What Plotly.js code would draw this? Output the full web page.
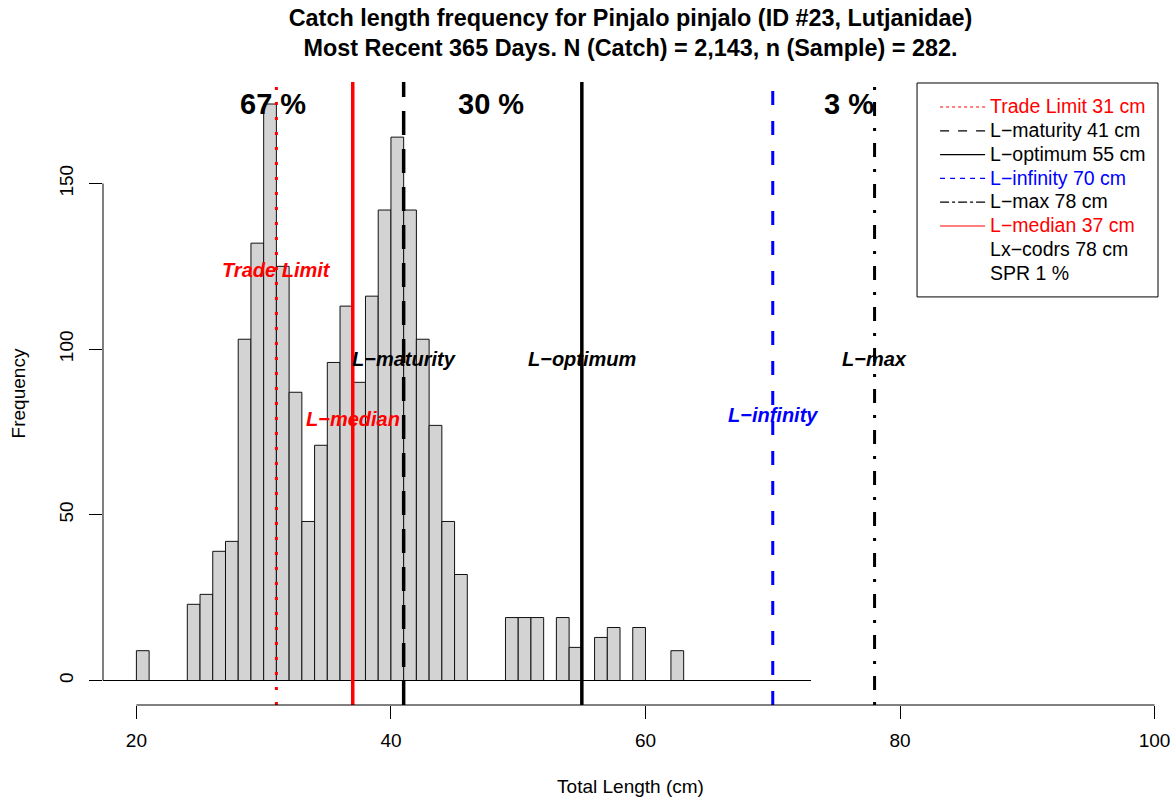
<!DOCTYPE html>
<html>
<head>
<meta charset="utf-8">
<script src="https://cdn.plot.ly/plotly-3.0.1.min.js"></script>
<style>
  html, body { margin: 0; padding: 0; background: #fff; }
  #chart { width: 1176px; height: 803px; }
</style>
</head>
<body>
<div id="chart"></div>
<script>
// ---------------- DATA ----------------
// Histogram bins (lower edge, cm) and catch frequencies
const lengthBins = [17, 18, 19, 20, 21, 22, 23, 24, 25, 26, 27, 28, 29, 30, 31, 32, 33, 34, 35, 36, 37, 38, 39, 40,
                    41, 42, 43, 44, 45, 46, 47, 48, 49, 50, 51, 52, 53, 54, 55, 56, 57, 58, 59, 60, 61, 62,
                    63, 64, 65, 66, 67, 68, 69, 70, 71, 72];
const counts =     [0, 0, 0, 9, 0, 0, 0, 23, 26, 39, 42, 103, 132, 174, 125, 87, 48, 71, 96, 113, 90, 116, 142, 164,
                    142, 103, 77, 48, 32, 0, 0, 0, 19, 19, 19, 0, 19, 10, 0, 13, 16, 0, 16, 0, 0, 9,
                    0, 0, 0, 0, 0, 0, 0, 0, 0, 0];

// Reference lengths (cm)
const refNames  = ['Trade Limit', 'L\u2212maturity', 'L\u2212optimum', 'L\u2212infinity', 'L\u2212max', 'L\u2212median'];
const refValues = [31, 41, 55, 70, 78, 37];
const refLabelY = [124, 97, 97, 80, 97, 79];   // height (frequency units) of in-plot labels

// Extra legend-only entries
const extraNames  = ['Lx\u2212codrs', 'SPR'];
const extraValues = [78, 1];
const extraUnits  = ['cm', '%'];

// Share of catch per size zone
const zoneLabels = ['67 %', '30 %', '3 %'];
const zoneCenters = [30.7, 47.9, 76.0];
const zoneLabelY = 174;

// Axes ticks
const xTicks = [20, 40, 60, 80, 100];
const yTicks = [0, 50, 100, 150];

// ---------------- STYLES ----------------
const refColors = ['#ff0000', '#000000', '#000000', '#0000ff', '#000000', '#ff0000'];
const refPlotDash = ['3px,12px', '24px,14px', 'solid', '14px,16px', '3px,12px,14px,12px', 'solid'];
const refPlotWidth = [3, 3.5, 3.5, 3, 3, 3.5];
const refLegendDash = ['dot', 'dash', 'solid', '5px,5px', 'dashdot', 'solid'];
const FONT = 'Liberation Sans, Arial, Helvetica, sans-serif';

// ---------------- TRACES ----------------
const traces = [];
traces.push({
  type: 'bar',
  x: lengthBins,
  y: counts,
  width: 1,
  offset: 0,
  marker: { color: '#d3d3d3', line: { color: '#111', width: 1 } },
  showlegend: false,
  hoverinfo: 'skip'
});

function legendName(txt, color) {
  return '<span style="font-size:19.5px;fill:' + color + '">' + txt + '</span>';
}

refNames.forEach((n, i) => {
  traces.push({
    type: 'scatter', mode: 'lines',
    x: [null], y: [null],
    name: legendName(n + ' ' + refValues[i] + ' cm', refColors[i]),
    line: { color: refColors[i], width: 1.2, dash: refLegendDash[i] },
    showlegend: true, hoverinfo: 'skip'
  });
});
extraNames.forEach((n, i) => {
  traces.push({
    type: 'scatter', mode: 'lines',
    x: [null], y: [null],
    name: legendName(n + ' ' + extraValues[i] + ' ' + extraUnits[i], '#000'),
    line: { color: 'rgba(0,0,0,0)', width: 0 },
    showlegend: true, hoverinfo: 'skip'
  });
});

// ---------------- SHAPES ----------------
const shapes = [];
// baseline of histogram
shapes.push({ type: 'line', xref: 'x', yref: 'y', x0: lengthBins[0], x1: lengthBins[lengthBins.length - 1] + 1,
              y0: 0, y1: 0, line: { color: '#000', width: 1 }, layer: 'above' });
// reference vertical lines
refValues.forEach((v, i) => {
  shapes.push({ type: 'line', xref: 'x', yref: 'paper', x0: v, x1: v, y0: 0, y1: 1,
                line: { color: refColors[i], width: refPlotWidth[i], dash: refPlotDash[i] }, layer: 'above' });
});
// R-style axis lines (span only tick range)
shapes.push({ type: 'line', xref: 'x', yref: 'paper', x0: xTicks[0], x1: xTicks[xTicks.length - 1], y0: 0, y1: 0,
              line: { color: '#000', width: 1 } });
shapes.push({ type: 'line', xref: 'paper', yref: 'y', x0: 0, x1: 0, y0: yTicks[0], y1: yTicks[yTicks.length - 1],
              line: { color: '#000', width: 1 } });
// legend box
shapes.push({ type: 'rect', xref: 'paper', yref: 'paper', x0: 0.7716, x1: 1, y0: 0.655, y1: 0.9984,
              line: { color: '#000', width: 1 }, fillcolor: 'rgba(0,0,0,0)' });

// ---------------- ANNOTATIONS ----------------
const annotations = [];
zoneLabels.forEach((t, i) => {
  annotations.push({ x: zoneCenters[i], y: zoneLabelY, xref: 'x', yref: 'y', text: t, showarrow: false,
                     xanchor: 'center', yanchor: 'middle',
                     font: { family: FONT, size: 29, color: '#000', weight: 'bold' } });
});
refNames.forEach((n, i) => {
  annotations.push({ x: refValues[i], y: refLabelY[i], xref: 'x', yref: 'y', text: n, showarrow: false,
                     xanchor: 'center', yanchor: 'middle',
                     font: { family: FONT, size: 20, color: refColors[i], weight: 'bold', style: 'italic' } });
});

// ---------------- LAYOUT ----------------
const layout = {
  width: 1176, height: 803,
  margin: { l: 103, r: 18, t: 82, b: 98 },
  paper_bgcolor: '#fff', plot_bgcolor: '#fff',
  font: { family: FONT, color: '#000' },
  title: {
    text: 'Catch length frequency for Pinjalo pinjalo (ID #23, Lutjanidae)<br>Most Recent 365 Days. N (Catch) = 2,143, n (Sample) = 282.',
    font: { family: FONT, size: 23.4, color: '#000', weight: 'bold' },
    x: 0.5, xref: 'paper', xanchor: 'center',
    y: 0.9676, yref: 'container', yanchor: 'middle'
  },
  xaxis: {
    range: [17.376, 100.27],
    tickmode: 'array', tickvals: xTicks, ticktext: xTicks.map(String),
    ticks: 'outside', ticklen: 13, tickwidth: 1, tickcolor: '#000',
    showline: false, showgrid: false, zeroline: false,
    tickfont: { family: FONT, size: 19, color: '#000' },
    ticklabelstandoff: 5,
    title: { text: 'Total Length (cm)', font: { family: FONT, size: 19, color: '#000' }, standoff: 29 }
  },
  yaxis: {
    range: [-7.39, 180.64],
    tickmode: 'array', tickvals: yTicks, ticktext: yTicks.map(String),
    ticks: 'outside', ticklen: 13, tickwidth: 1, tickcolor: '#000',
    tickangle: -90,
    showline: false, showgrid: false, zeroline: false,
    tickfont: { family: FONT, size: 19, color: '#000' },
    ticklabelstandoff: 8,
    title: { text: 'Frequency', font: { family: FONT, size: 19, color: '#000' }, standoff: 25 }
  },
  legend: {
    x: 0.7887, xanchor: 'left', y: 0.987, yanchor: 'top',
    bgcolor: 'rgba(0,0,0,0)', borderwidth: 0,
    font: { family: FONT, size: 16, color: '#000' },
    traceorder: 'normal', itemwidth: 45
  },
  bargap: 0,
  shapes: shapes,
  annotations: annotations,
  showlegend: true
};

Plotly.newPlot('chart', traces, layout, { staticPlot: true, displayModeBar: false });
</script>
</body>
</html>
